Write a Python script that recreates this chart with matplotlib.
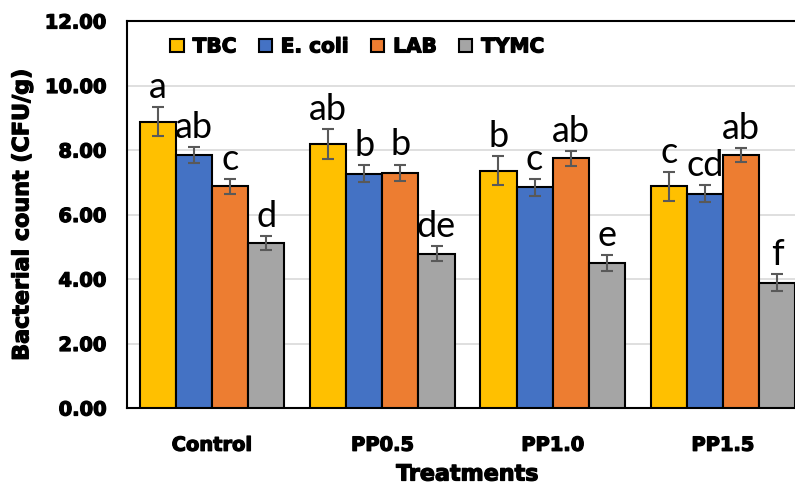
import numpy as np
import matplotlib
matplotlib.use("Agg")
import matplotlib.pyplot as plt
import matplotlib.patheffects as pe
from matplotlib.patches import Patch

treatments = ["Control", "PP0.5", "PP1.0", "PP1.5"]
series = ["TBC", "E. coli", "LAB", "TYMC"]

tbc = [8.87, 8.19, 7.36, 6.87]
ecoli = [7.84, 7.27, 6.84, 6.64]
lab = [6.87, 7.30, 7.74, 7.84]
tymc = [5.11, 4.79, 4.49, 3.88]

tbc_err = [0.45, 0.46, 0.44, 0.45]
ecoli_err = [0.25, 0.26, 0.26, 0.26]
lab_err = [0.22, 0.25, 0.23, 0.22]
tymc_err = [0.22, 0.22, 0.25, 0.26]

tbc_letters = ["a", "ab", "b", "c"]
ecoli_letters = ["ab", "b", "c", "cd"]
lab_letters = ["c", "b", "ab", "ab"]
tymc_letters = ["d", "de", "e", "f"]

colors = ["#FFC000", "#4472C4", "#ED7D31", "#A5A5A5"]

values = [tbc, ecoli, lab, tymc]
errors = [tbc_err, ecoli_err, lab_err, tymc_err]
letters = [tbc_letters, ecoli_letters, lab_letters, tymc_letters]

# heavier look for the bold labels (reference uses a black-weight font)
heavy = [pe.withStroke(linewidth=0.9, foreground="black")]

fig = plt.figure(figsize=(7.95, 4.85), dpi=100)
ax = fig.add_axes([127 / 795, 76 / 485, 681 / 795, 387 / 485])

x = np.arange(len(treatments))
w = 0.212
for i in range(4):
    pos = x + (i - 1.5) * w
    ax.bar(pos, values[i], w, color=colors[i], edgecolor="black", linewidth=1.5, zorder=3)
    ax.errorbar(pos, values[i], yerr=errors[i], fmt="none", ecolor="#595959",
                elinewidth=1.5, capsize=4, capthick=1.5, zorder=4)
    for j in range(len(treatments)):
        ax.annotate(letters[i][j], (pos[j], values[i][j] + errors[i][j]),
                    xytext=(0, 3), textcoords="offset points", ha="center", va="bottom",
                    fontsize=26, family="Lato", zorder=5)

ax.set_xlim(-0.5, 3.5)
ax.set_ylim(0, 12)
ax.set_yticks(np.arange(0, 12.1, 2))
ax.set_yticklabels(["%.2f" % v for v in np.arange(0, 12.1, 2)])
ax.set_xticks(x)
ax.set_xticklabels(treatments)
ax.tick_params(axis="both", length=0, labelsize=14)
ax.tick_params(axis="y", pad=15)
ax.tick_params(axis="x", pad=20)
for lbl in ax.get_xticklabels() + ax.get_yticklabels():
    lbl.set_fontweight("bold")
    lbl.set_path_effects(heavy)

ax.yaxis.grid(True, color="#D9D9D9", linewidth=1.2, zorder=0)
ax.set_axisbelow(True)
for sp in ax.spines.values():
    sp.set_linewidth(1.5)
    sp.set_color("black")

ax.set_xlabel("Treatments", fontsize=16, fontweight="bold", labelpad=7, path_effects=heavy)
ax.set_ylabel("Bacterial count (CFU/g)", fontsize=16, fontweight="bold", labelpad=9,
              path_effects=heavy)

handles = [Patch(facecolor=c, edgecolor="black", linewidth=1.5) for c in colors]
leg = ax.legend(handles, series, loc="center left", bbox_to_anchor=(0.052, 0.933),
                ncol=4, frameon=False, handlelength=0.65, handleheight=0.65,
                handletextpad=0.45, columnspacing=1.1, borderaxespad=0,
                prop={"weight": "bold", "size": 14.5})
for t in leg.get_texts():
    t.set_path_effects(heavy)

plt.savefig("out.png", dpi=100)
